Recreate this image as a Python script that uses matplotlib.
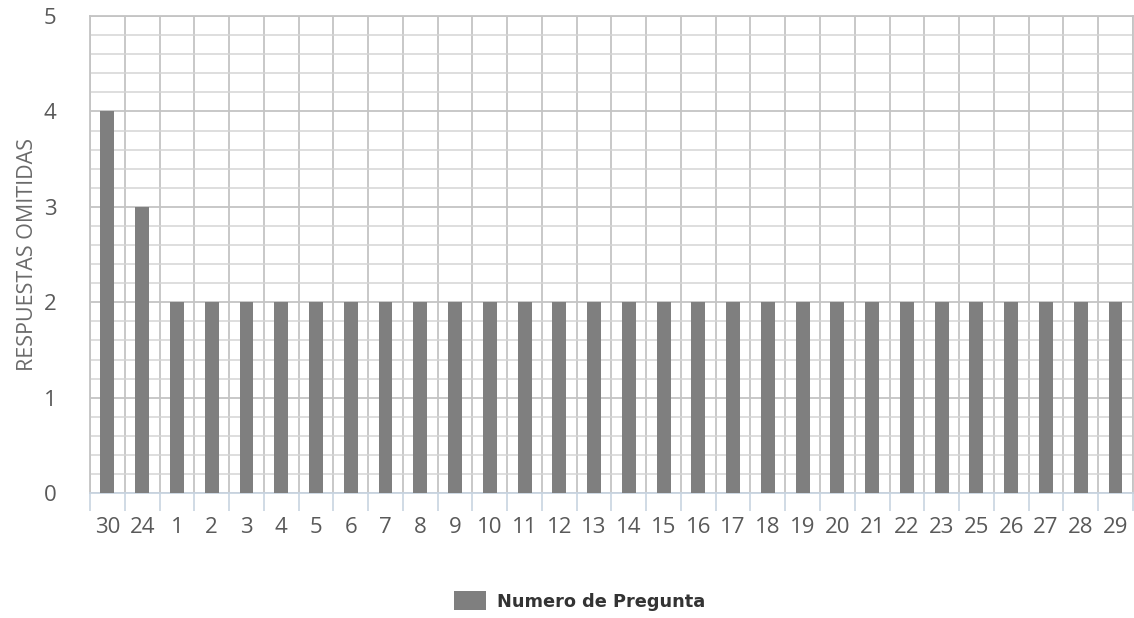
import matplotlib.pyplot as plt
from matplotlib.ticker import MultipleLocator, FixedLocator, NullFormatter

plt.rcParams['font.family'] = ['Open Sans', 'DejaVu Sans']

preguntas = ["30", "24"] + [str(i) for i in range(1, 24)] + ["25", "26", "27", "28", "29"]
omitidas = [4, 3] + [2] * 23 + [2, 2, 2, 2, 2]

fig = plt.figure(figsize=(11.34, 6.18), dpi=100)
ax = fig.add_axes([0.0794, 0.202, 0.9196, 0.772])

x = range(len(preguntas))
ax.bar(x, omitidas, width=0.40, color="#7f7f7f", zorder=3, label="Numero de Pregunta")

ax.set_xlim(-0.5, len(preguntas) - 0.5)
ax.set_ylim(0, 5)

# rejilla
ax.yaxis.set_major_locator(MultipleLocator(1))
ax.yaxis.set_minor_locator(MultipleLocator(0.2))
ax.grid(axis="y", which="major", color="#c4c4c4", lw=1.3, zorder=0)
ax.grid(axis="y", which="minor", color="#d4d4d4", lw=1.1, zorder=0)
ax.xaxis.set_minor_locator(FixedLocator([i - 0.5 for i in range(len(preguntas) + 1)]))
ax.xaxis.set_minor_formatter(NullFormatter())
ax.grid(axis="x", which="minor", color="#c4c4c4", lw=1.3, zorder=0)

ax.set_xticks(list(x))
ax.set_xticklabels(preguntas)
ax.tick_params(axis="x", which="major", length=0, pad=17, labelsize=16, labelcolor="#595959")
ax.tick_params(axis="x", which="minor", length=13, color="#c8d4e0", width=1.2)
ax.tick_params(axis="y", which="both", length=0, pad=24, labelsize=16, labelcolor="#595959")

for side in ["top", "right", "left"]:
    ax.spines[side].set_color("#c4c4c4")
    ax.spines[side].set_linewidth(1.3)
ax.spines["bottom"].set_color("#c8d4e0")
ax.spines["bottom"].set_linewidth(1.3)

ax.set_ylabel("RESPUESTAS OMITIDAS", fontsize=15.5, color="#6a6a6a", labelpad=4)

leg = fig.legend(loc="center", bbox_to_anchor=(0.511, 0.028), frameon=False,
                 prop={"family": "DejaVu Sans", "weight": "bold", "size": 12.8},
                 handlelength=1.8, handleheight=1.3, handletextpad=0.6)
for t in leg.get_texts():
    t.set_color("#333333")

fig.savefig("out.png", dpi=100)
